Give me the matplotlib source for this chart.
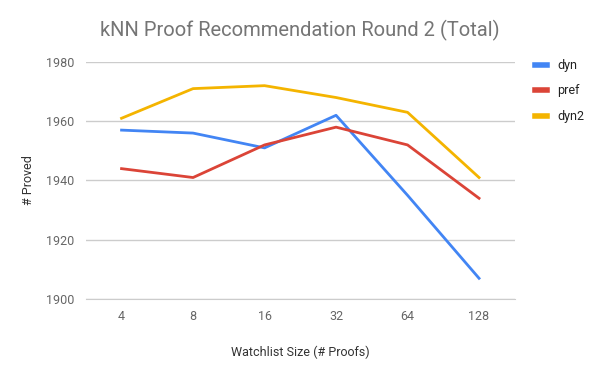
import matplotlib
matplotlib.use("Agg")
import matplotlib.pyplot as plt
import numpy as np

plt.rcParams['font.family'] = ['Roboto', 'DejaVu Sans']

sizes = ['4', '8', '16', '32', '64', '128']
dyn = [1957, 1956, 1951, 1962, 1935, 1907]
pref = [1944, 1941, 1952, 1958, 1952, 1934]
dyn2 = [1961, 1971, 1972, 1968, 1963, 1941]

series = [('dyn', dyn, '#4285f4'), ('pref', pref, '#db4437'), ('dyn2', dyn2, '#f4b400')]

fig = plt.figure(figsize=(6, 3.71), dpi=100)
ax = fig.add_axes([0.143, 0.194, 0.715, 0.639])

x = np.arange(len(sizes))
for name, vals, col in series:
    ax.plot(x, vals, color=col, lw=2, label=name, solid_joinstyle='round')

ax.set_xlim(-0.5, len(sizes) - 0.5)
ax.set_ylim(1900, 1980)
ax.set_yticks([1900, 1920, 1940, 1960, 1980])
ax.set_xticks(x)
ax.set_xticklabels(sizes)
ax.grid(axis='y', color='#cccccc', lw=1)
ax.set_axisbelow(True)
for s in ax.spines.values():
    s.set_visible(False)
ax.spines['bottom'].set_visible(True)
ax.spines['bottom'].set_color('#cccccc')
ax.tick_params(length=0, labelsize=9, colors='#666666', pad=8)

ax.set_xlabel('Watchlist Size (# Proofs)', fontsize=9, color='#333333', labelpad=16)
ax.set_ylabel('# Proved', fontsize=9, color='#333333', labelpad=8)
fig.suptitle('kNN Proof Recommendation Round 2 (Total)', x=0.5, y=0.945,
             fontsize=14.5, color='#757575')

leg = ax.legend(loc='upper left', bbox_to_anchor=(1.02, 1.06), frameon=False,
                fontsize=9, handlelength=1.0, handletextpad=0.8, labelspacing=1.0)
for t in leg.get_texts():
    t.set_color('#222222')
for h in leg.get_lines():
    h.set_linewidth(4)

fig.savefig('out.png', dpi=100)
